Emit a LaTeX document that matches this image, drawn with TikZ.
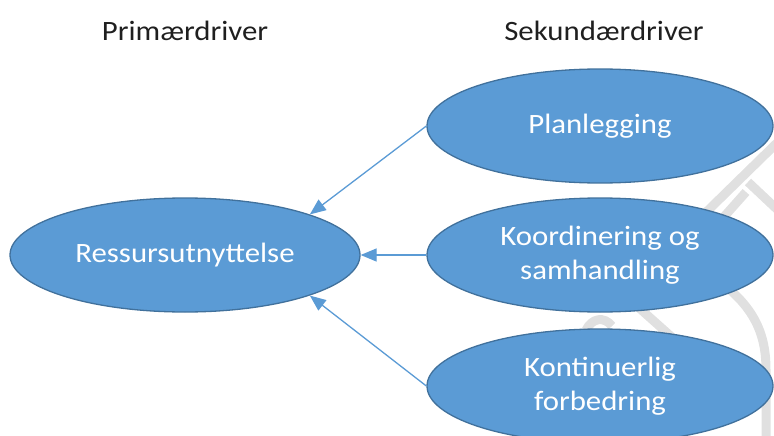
\documentclass[tikz,border=0pt]{standalone}
\usepackage{fontspec}
\setmainfont{Carlito}[FakeStretch=1.1]
\usetikzlibrary{shapes.geometric,arrows.meta}
\definecolor{driverfill}{HTML}{5B9BD5}
\definecolor{driverline}{HTML}{41719C}
\definecolor{linkblue}{HTML}{5B9BD5}
\definecolor{markgray}{HTML}{E0E0E0}
\tikzset{
  driver/.style={ellipse, draw=driverline, fill=driverfill, line width=1.3pt,
    inner sep=0pt, minimum width=#1, minimum height=114pt, text=white,
    align=center, font=\fontsize{28}{34}\selectfont},
  driver/.default=346pt,
  header/.style={text=black!88, font=\fontsize{28}{32}\selectfont},
  link/.style={draw=linkblue, line width=1.3pt,
    -{Triangle[length=16pt,width=13pt]}},
  lettering/.style={draw=markgray, line width=9pt}
}
\begin{document}
\begin{tikzpicture}[x=1pt,y=-1pt]
  \useasboundingbox (0,0) rectangle (774,436);
  \clip (0,0) rectangle (774,436);
  % faint background lettering
  \draw[lettering] (782,138) -- (692,226);
  \draw[lettering] (748,182) -- (782,214);
  \draw[lettering] (746,192) -- (714,228);
  \draw[lettering] (628,298) -- (684,348);
  \draw[lettering] (700,268) .. controls (752,300) and (766,330) .. (766,370) -- (766,440);
  \draw[lettering] (586,330) .. controls (592,318) and (604,316) .. (612,326);
  % headings
  \node[header] (h1) at (185,31) {Primærdriver};
  \node[header] (h2) at (604,31) {Sekundærdriver};
  % drivers
  \node[driver=350pt] (prim) at (185,255) {Ressursutnyttelse};
  \node[driver] (s1) at (600,126) {Planlegging};
  \node[driver] (s2) at (600,255) {Koordinering og\\samhandling};
  \node[driver] (s3) at (600,386) {Kontinuerlig\\forbedring};
  % links
  \draw[link] (s1.west) -- (prim.18);
  \draw[link] (s2.west) -- (prim.east);
  \draw[link] (s3.west) -- (prim.-18);
\end{tikzpicture}
\end{document}
